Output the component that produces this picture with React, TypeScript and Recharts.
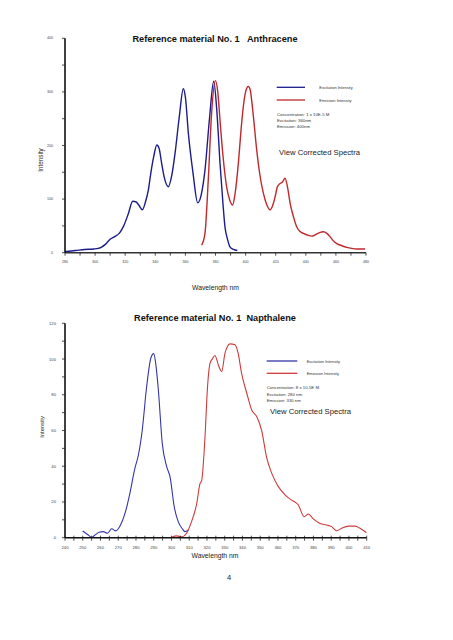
import React from 'react';
import { LineChart, Line, XAxis, YAxis, Legend } from 'recharts';

const FONT = '"Liberation Sans", Arial, Helvetica, sans-serif';

// Anthracene – excitation (blue)
const anthExWl = [280, 287, 293, 299, 302, 304, 307, 310, 313, 316, 319, 322, 325, 327, 329, 331.4, 333.5, 335.4, 337, 339, 341, 342.5, 344.2, 346, 348.7, 351, 353.1, 356, 358.6, 360, 362, 365, 368.2, 370.5, 373, 376, 378.8, 381, 383, 385, 386.3, 388, 389.6, 392, 394.5];
const anthExInt = [2, 4, 6, 7, 8, 10, 16, 25, 30, 36, 50, 72, 96, 95, 89, 80, 95, 117, 148, 180, 201, 195, 167, 140, 123, 145, 185, 255, 306, 290, 222, 150, 93, 108, 154, 250, 320, 260, 167, 90, 48, 25, 11, 6, 4];

// Anthracene – emission (red)
const anthEmWl = [370.8, 373, 375.2, 377.4, 379.9, 381.5, 383, 385, 387.4, 389.5, 391.4, 393, 395.2, 397, 398.5, 400, 401.8, 403, 404, 405.5, 407.4, 409.5, 411.8, 414, 416.3, 418, 419.6, 421, 422.9, 424.5, 426.2, 428, 429.6, 432, 434, 436, 438.4, 441, 444, 446, 447.3, 449.5, 451.7, 454, 456.1, 458, 460.6, 464, 467.2, 470.5, 473.9, 477, 479.4];
const anthEmInt = [14, 36, 136, 260, 321, 300, 247, 180, 123, 98, 89, 110, 167, 230, 273, 300, 310, 305, 285, 245, 191, 145, 111, 90, 80, 88, 104, 122, 129, 132, 139, 120, 92, 65, 48, 40, 36, 33, 31, 33, 35, 38, 39, 36, 30, 23, 17, 13, 10, 8, 7, 7, 7];

// Napthalene – excitation (blue)
const naphExWl = [250, 253.1, 255, 256.9, 259.2, 261.6, 264, 266.3, 268.7, 271, 273.8, 276.6, 279.4, 281.3, 283.5, 286, 288.5, 290, 291.3, 292.6, 294.8, 297.3, 299.2, 301.6, 303.8, 306.1, 307.6, 309.5];
const naphExInt = [3.8, 1.5, 0.2, 1.5, 3, 3.4, 2.5, 5, 3.8, 6.5, 13.6, 25, 39, 46, 60, 84.5, 101, 103, 96, 82.7, 52.8, 39.8, 34, 17, 9, 5, 3.4, 4.3];

// Napthalene – emission (red)
const naphEmWl = [300.1, 302.9, 305.7, 308.5, 311.3, 314.2, 316, 317, 318.9, 320.2, 321.7, 323, 324.5, 326.4, 328.3, 330.1, 331.5, 333, 335.8, 337.6, 339.5, 342.4, 345.2, 348, 350.8, 353.6, 356.5, 360.2, 364, 367.7, 371.5, 374.7, 377.1, 379.9, 383.7, 387.4, 390.2, 393.1, 395.9, 399.6, 403.4, 406.2, 409.9];
const naphEmInt = [0.2, 1, 0.5, 2.5, 9, 19, 30, 32, 56.5, 82.7, 97.6, 100, 102, 96.7, 93, 103, 107, 108.5, 108, 103, 92, 81, 71.5, 67.8, 60, 45, 36, 28.6, 24, 21, 18.3, 11.8, 13.3, 10.5, 8, 7.1, 6.2, 3.9, 5.3, 6.5, 6.5, 5.3, 2.8];

// axis ticks
const anthXTicks = [280, 290, 300, 310, 320, 330, 340, 350, 360, 370, 380, 390, 400, 410, 420, 430, 440, 450, 460, 470, 480];
const anthYTicks = [0, 50, 100, 150, 200, 250, 300, 350, 400];
const naphXTicks = [240, 245, 250, 255, 260, 265, 270, 275, 280, 285, 290, 295, 300, 305, 310, 315, 320, 325, 330, 335, 340, 345, 350, 355, 360, 365, 370, 375, 380, 385, 390, 395, 400, 405, 410];
const naphYTicks = [0, 10, 20, 30, 40, 50, 60, 70, 80, 90, 100, 110, 120];

const seriesNames = ['Excitation Intensity', 'Emission Intensity'];
const anthNotes = ['Concentration: 1 x 10E-5 M', 'Excitation: 360nm', 'Emission: 400nm'];
const naphNotes = ['Concentration: 8 x 10-5E M', 'Excitation: 280 nm', 'Emission: 330 nm'];

const zip = (wl: number[], v: number[]) => wl.map((w, i) => ({ wl: w, int: v[i] }));

const xTick = (major: number, dy: number, fs: number, cross: boolean) => (p: any) => {
  const v = p.payload.value;
  return (
    <g>
      <line x1={p.x} x2={p.x} y1={cross ? p.y - 2 : p.y} y2={p.y + 3} stroke="#222" strokeWidth={0.8} />
      {v % major === 0 && (
        <text x={p.x} y={p.y + dy} textAnchor="middle" dominantBaseline="central" fontSize={fs} fill="#444" fontFamily={FONT}>
          {v}
        </text>
      )}
    </g>
  );
};

const yTick = (major: number, gap: number, fs: number) => (p: any) => {
  const v = p.payload.value;
  return (
    <g>
      <line x1={p.x - 3} x2={p.x} y1={p.y} y2={p.y} stroke="#222" strokeWidth={0.8} />
      {v % major === 0 && (
        <text x={p.x - gap} y={p.y} textAnchor="end" dominantBaseline="central" fontSize={fs} fill="#444" fontFamily={FONT}>
          {v}
        </text>
      )}
    </g>
  );
};

const legendContent = (cfg: any) => (props: any) => {
  const items = [...(props.payload || [])].sort(
    (a: any, b: any) => seriesNames.indexOf(a.value) - seriesNames.indexOf(b.value)
  );
  return (
    <svg width={130} height={80} style={{ display: 'block', overflow: 'visible' }} fontFamily={FONT}>
      {items.map((it: any, i: number) => (
        <g key={it.value}>
          <line x1={cfg.lx1} x2={cfg.lx2} y1={cfg.ly + i * cfg.step} y2={cfg.ly + i * cfg.step} stroke={it.color} strokeWidth={1.3} />
          <text x={cfg.tx} y={cfg.ly + i * cfg.step} dominantBaseline="central" fontSize={4} fill="#333">
            {it.value}
          </text>
        </g>
      ))}
      {cfg.notes.map((n: string, i: number) => (
        <text key={n} x={cfg.nx} y={cfg.ny + i * 6.3} dominantBaseline="central" fontSize={4.3} fill="#333">
          {n}
        </text>
      ))}
      <text x={cfg.vx} y={cfg.vy} dominantBaseline="central" fontSize={7.7} fill="#222">
        View Corrected Spectra
      </text>
    </svg>
  );
};

const Title = ({ y, text }: { y: number; text: string }) => (
  <div
    style={{
      position: 'absolute', left: 0, width: 430, top: y - 6, height: 12, lineHeight: '12px',
      textAlign: 'center', fontWeight: 'bold', fontSize: 9.2, whiteSpace: 'pre', color: '#111', fontFamily: FONT,
    }}
  >
    {text}
  </div>
);

export default function App() {
  return (
    <div style={{ position: 'absolute', left: 0, top: 0, width: 453, height: 640, background: '#fff', fontFamily: FONT }}>
      <div style={{ position: 'absolute', left: 0, top: 0 }}>
        <LineChart width={453} height={300} margin={{ top: 38.3, right: 87, bottom: 7.3, left: 0 }}>
          <XAxis
            type="number" dataKey="wl" domain={[280, 480]} ticks={anthXTicks} interval={0} allowDataOverflow
            height={40} tickSize={0} tickMargin={0} tickLine={false} tick={xTick(20, 9.6, 3.6, false)}
            axisLine={{ stroke: '#333', strokeWidth: 1.4 }}
            label={() => (
              <text x={215.5} y={287.3} textAnchor="middle" dominantBaseline="central" fontSize={6.8} fill="#222" fontFamily={FONT}>
                Wavelength nm
              </text>
            )}
          />
          <YAxis
            type="number" domain={[0, 400]} ticks={anthYTicks} interval={0} width={65}
            tickSize={0} tickMargin={0} tickLine={false} tick={yTick(100, 12, 3.6)}
            axisLine={{ stroke: '#000', strokeWidth: 1.5 }}
            label={() => (
              <text x={40.5} y={160} transform="rotate(-90 40.5 160)" textAnchor="middle" dominantBaseline="central" fontSize={6.3} fill="#222" fontFamily={FONT}>
                Intensity
              </text>
            )}
          />
          <Legend
            layout="vertical" align="center" verticalAlign="middle"
            wrapperStyle={{ left: 270, top: 80, width: 130, height: 80 }}
            content={legendContent({ lx1: 6.7, lx2: 35, ly: 7.3, step: 12.7, tx: 49.3, notes: anthNotes, nx: 7, ny: 34, vx: 9, vy: 72.7 })}
          />
          <Line name={seriesNames[0]} data={zip(anthExWl, anthExInt)} dataKey="int" type="monotone" stroke="#1c1c8c" strokeWidth={1.4} dot={false} isAnimationActive={false} />
          <Line name={seriesNames[1]} data={zip(anthEmWl, anthEmInt)} dataKey="int" type="monotone" stroke="#c0282c" strokeWidth={1.4} dot={false} isAnimationActive={false} />
        </LineChart>
      </div>
      <Title y={39} text="Reference material No. 1   Anthracene" />

      <div style={{ position: 'absolute', left: 0, top: 300 }}>
        <LineChart width={453} height={280} margin={{ top: 23.3, right: 86.3, bottom: 17.3, left: 0 }}>
          <XAxis
            type="number" dataKey="wl" domain={[240, 410]} ticks={naphXTicks} interval={0} allowDataOverflow
            height={25} tickSize={0} tickMargin={0} tickLine={false} tick={xTick(10, 9.3, 4.2, true)}
            axisLine={{ stroke: '#111', strokeWidth: 1.5 }}
            label={() => (
              <text x={215} y={255} textAnchor="middle" dominantBaseline="central" fontSize={6.8} fill="#222" fontFamily={FONT}>
                Wavelength nm
              </text>
            )}
          />
          <YAxis
            type="number" domain={[0, 120]} ticks={naphYTicks} interval={0} width={65}
            tickSize={0} tickMargin={0} tickLine={false} tick={yTick(20, 9, 4.2)}
            axisLine={{ stroke: '#000', strokeWidth: 1.5 }}
            label={() => (
              <text x={41.7} y={127} transform="rotate(-90 41.7 127)" textAnchor="middle" dominantBaseline="central" fontSize={5.8} fill="#222" fontFamily={FONT}>
                Intensity
              </text>
            )}
          />
          <Legend
            layout="vertical" align="center" verticalAlign="middle"
            wrapperStyle={{ left: 260, top: 50, width: 130, height: 80 }}
            content={legendContent({ lx1: 6.7, lx2: 37.3, ly: 11, step: 12.3, tx: 46.7, notes: naphNotes, nx: 6.7, ny: 37.7, vx: 10, vy: 61.7 })}
          />
          <Line name={seriesNames[0]} data={zip(naphExWl, naphExInt)} dataKey="int" type="monotone" stroke="#3434a8" strokeWidth={1.1} dot={false} isAnimationActive={false} />
          <Line name={seriesNames[1]} data={zip(naphEmWl, naphEmInt)} dataKey="int" type="monotone" stroke="#d03a3a" strokeWidth={1.1} dot={false} isAnimationActive={false} />
        </LineChart>
      </div>
      <Title y={317.7} text="Reference material No. 1  Napthalene" />

      <div style={{ position: 'absolute', left: 219, width: 20, top: 572, textAlign: 'center', fontSize: 7.5, lineHeight: '11px', color: '#222', fontFamily: FONT }}>
        4
      </div>
    </div>
  );
}
